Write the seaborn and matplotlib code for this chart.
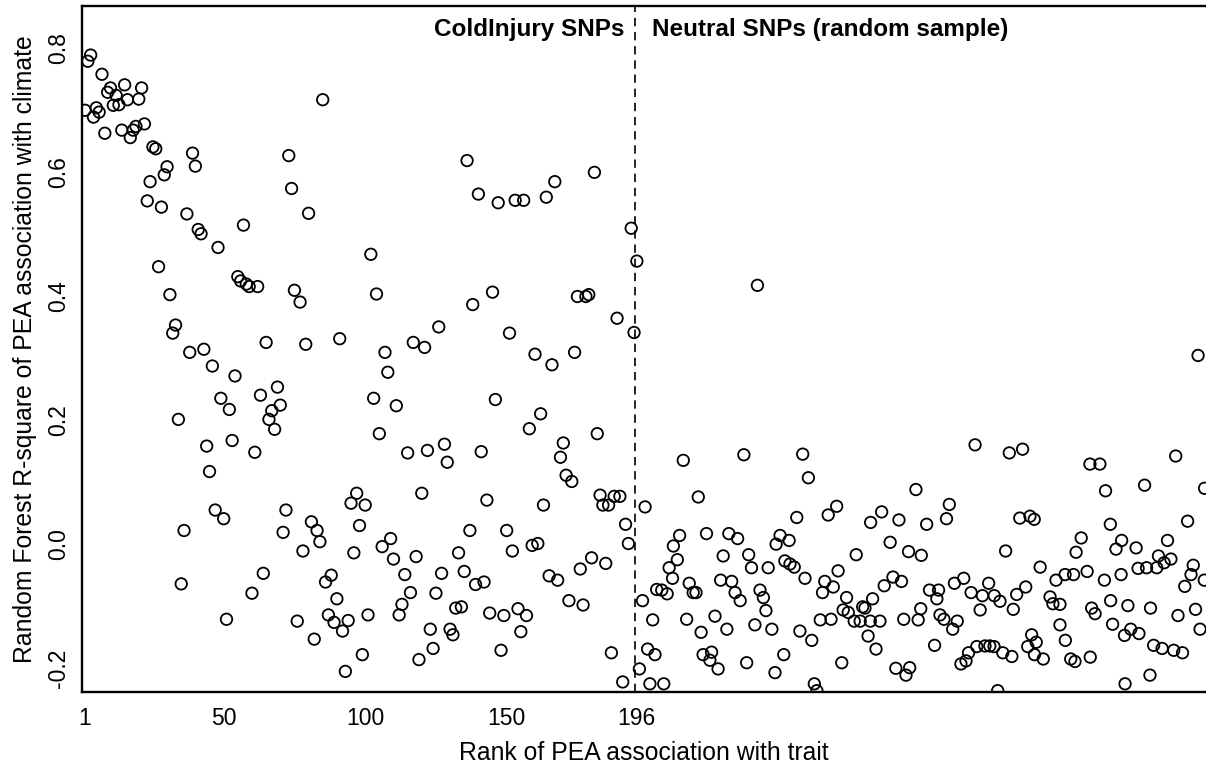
import numpy as np
import pandas as pd
import matplotlib
matplotlib.use("Agg")
import matplotlib.pyplot as plt
import seaborn as sns

# Random Forest R-square of PEA association with climate, ordered by rank of PEA association with trait
cold_r2 = [
    0.699, 0.778, 0.788, 0.688, 0.703, 0.696, 0.757, 0.662, 0.728, 0.735,
    0.707, 0.723, 0.708, 0.667, 0.740, 0.716, 0.655, 0.667, 0.673, 0.717,
    0.735, 0.677, 0.553, 0.584, 0.640, 0.637, 0.447, 0.543, 0.595, 0.608,
    0.402, 0.340, 0.353, 0.201, -0.064, 0.022, 0.532, 0.309, 0.630, 0.609,
    0.507, 0.500, 0.314, 0.158, 0.117, 0.287, 0.055, 0.478, 0.235, 0.041,
    -0.121, 0.217, 0.167, 0.271, 0.431, 0.424, 0.514, 0.419, 0.415, -0.079,
    0.148, 0.415, 0.240, -0.047, 0.325, 0.201, 0.215, 0.185, 0.253, 0.224,
    0.019, 0.055, 0.626, 0.573, 0.409, -0.124, 0.390, -0.011, 0.322, 0.533,
    0.036, -0.153, 0.022, 0.004, 0.716, -0.061, -0.114, -0.050, -0.126, -0.088,
    0.331, -0.140, -0.205, -0.123, 0.066, -0.014, 0.082, 0.030, -0.178, 0.063,
    -0.114, 0.467, 0.235, 0.403, 0.178, -0.004, 0.309, 0.277, 0.009, -0.024,
    0.223, -0.114, -0.097, -0.049, 0.147, -0.078, 0.325, -0.020, -0.186, 0.082,
    0.317, 0.151, -0.137, -0.168, -0.079, 0.350, -0.047, 0.161, 0.132, -0.137,
    -0.146, -0.103, -0.014, -0.101, -0.044, 0.618, 0.022, 0.386, -0.065, 0.564,
    0.149, -0.061, 0.071, -0.111, 0.406, 0.233, 0.550, -0.171, -0.115, 0.022,
    0.340, -0.011, 0.554, -0.104, -0.141, 0.554, -0.115, 0.186, -0.002, 0.306,
    0.001, 0.210, 0.063, 0.559, -0.051, 0.289, 0.584, -0.058, 0.140, 0.163,
    0.111, -0.091, 0.101, 0.309, 0.399, -0.040, -0.098, 0.399, 0.402, -0.022,
    0.599, 0.178, 0.079, 0.063, -0.031, 0.063, -0.175, 0.077, 0.364, 0.077,
    -0.222, 0.032, 0.001, 0.509, 0.341, 0.456,
]

# x position (rank axis) of the neutral SNPs
neutral_rank = [
    196.9, 198.0, 198.9, 199.8, 200.6, 201.6, 202.4, 203.0,
    204.8, 205.5, 206.7, 207.4, 208.6, 208.9, 210.3, 211.1, 212.4, 213.6,
    214.5, 215.9, 216.9, 217.7, 218.7, 219.4, 220.6, 221.8, 222.4, 223.6,
    224.7, 225.6, 226.5, 227.8, 228.5, 229.5, 230.7, 231.6, 232.5, 233.8,
    234.8, 235.5, 236.5, 237.7, 238.6, 239.5, 240.7, 241.6, 242.4, 243.7,
    244.8, 245.2, 246.6, 247.9, 248.3, 249.8, 250.1, 251.6, 252.5, 253.6,
    254.6, 255.4, 256.6, 257.8, 258.7, 259.6, 260.8, 261.6, 262.4, 263.6,
    264.6, 265.4, 266.6, 267.1, 268.4, 268.9, 270.1, 270.7,
    272.8, 273.5, 274.9, 275.8, 276.6, 277.7, 278.5, 278.6, 279.3, 280.5,
    281.9, 282.5, 283.4, 285.5, 286.5, 287.5, 288.6, 289.5, 290.3, 291.1,
    292.0, 292.4, 294.6, 295.4, 296.3, 296.5, 298.4, 299.4, 301.2, 302.0,
    302.6, 303.1, 304.5, 305.4, 306.4, 307.6, 308.2, 309.2, 310.5, 311.5,
    312.3, 313.2, 314.1, 315.5, 316.1, 317.3, 318.1, 319.0, 320.3, 320.7,
    322.2, 322.3, 323.5, 324.3, 325.3, 326.3, 327.6, 328.5, 329.0, 330.2,
    331.3, 332.3, 333.4, 334.1, 334.9, 335.5, 336.4, 336.5, 337.1, 338.5,
    339.6, 342.0, 343.0, 344.1, 345.5, 345.5, 347.3, 347.4, 349.3, 350.3,
    350.8, 351.2, 353.0, 355.1, 356.1, 356.2, 356.7, 357.9, 359.6, 361.2,
    361.6, 363.3, 363.4, 364.1, 365.3, 367.1, 367.3, 368.3, 368.5, 369.5,
    370.5, 372.4, 373.1, 373.4, 375.4, 376.1, 377.3, 377.5, 378.6, 379.7,
    380.3, 381.6, 382.3, 383.5, 384.7, 385.7, 386.4, 387.2, 388.8, 389.6,
    390.6, 391.8, 392.6, 393.4, 394.3, 395.0, 396.5, 396.6,
]

neutral_r2 = [
    -0.201, -0.091, 0.060, -0.169, -0.225, -0.122, -0.178, -0.073,
    -0.074, -0.225, -0.080, -0.038, -0.055, -0.003, -0.025, 0.014, 0.135, -0.121,
    -0.063, -0.078, -0.078, 0.076, -0.142, -0.178, 0.017, -0.187, -0.174, -0.116,
    -0.201, -0.058, -0.019, -0.137, 0.017, -0.060, -0.078, 0.009, -0.091, 0.144,
    -0.191, -0.017, -0.038, -0.130, 0.417, -0.074, -0.086, -0.107, -0.038, -0.137,
    -0.207, 0.000, 0.014, -0.178, -0.027, 0.006, -0.032, -0.037, 0.043, -0.140,
    0.145, -0.055, 0.107, -0.155, -0.225, -0.236, -0.122, -0.078, -0.060, 0.047,
    -0.121, -0.069, 0.061, -0.043, -0.191, -0.106, -0.086, -0.110,
    -0.124, -0.017, -0.124, -0.101, -0.103, -0.148, -0.124, 0.035, -0.088, -0.169,
    -0.124, 0.052, -0.067, 0.003, -0.053, -0.200, 0.039, -0.060, -0.121, -0.211,
    -0.012, -0.199, 0.088, -0.122, -0.104, -0.018, 0.032, -0.074, -0.163, -0.088,
    -0.074, -0.114, -0.121, 0.041, 0.064, -0.137, -0.063, -0.124, -0.193, -0.055,
    -0.188, -0.175, -0.078, 0.160, -0.165, -0.106, -0.083, -0.164, -0.063, -0.164,
    -0.165, -0.083, -0.236, -0.092, -0.175, -0.011, 0.147, -0.181, -0.105, -0.081,
    0.042, 0.153, -0.069, -0.165, 0.045, -0.146, 0.040, -0.178, -0.158, -0.037,
    -0.185, -0.085, -0.096, -0.058, -0.130, -0.097, -0.049, -0.155, -0.185, -0.049,
    -0.189, -0.013, 0.010, -0.044, 0.129, -0.182, -0.103, -0.112, 0.129, -0.058,
    0.086, 0.032, -0.091, -0.129, -0.008, -0.049, 0.006, -0.147, -0.225, -0.099,
    -0.137, -0.006, -0.039, -0.144, 0.095, -0.038, -0.211, -0.103, -0.163, -0.038,
    -0.019, -0.168, -0.030, 0.006, -0.024, -0.171, 0.142, -0.115, -0.175, -0.068,
    0.037, -0.049, -0.034, -0.105, 0.304, -0.137, -0.058, 0.090,
]

group_labels = ["ColdInjury SNPs", "Neutral SNPs (random sample)"]
x_ticks = [1, 50, 100, 150, 196]
x_tick_labels = ["1", "50", "100", "150", "196"]
y_ticks = [-0.2, 0.0, 0.2, 0.4, 0.6, 0.8]
y_tick_labels = ["-0.2", "0.0", "0.2", "0.4", "0.6", "0.8"]

sns.set_style("white")
plt.rcParams["font.family"] = ["Liberation Sans", "DejaVu Sans"]
plt.rcParams["axes.unicode_minus"] = False
plt.rcParams["text.color"] = "black"
plt.rcParams["axes.labelcolor"] = "black"
plt.rcParams["xtick.color"] = "black"
plt.rcParams["ytick.color"] = "black"

n_cold = len(cold_r2)
cold_rank = list(range(1, n_cold + 1))
df = pd.DataFrame({
    "rank": cold_rank + neutral_rank,
    "r2": cold_r2 + neutral_r2,
    "group": [group_labels[0]] * n_cold + [group_labels[1]] * len(neutral_r2),
})

W, H = 1206, 767
fig = plt.figure(figsize=(W / 100, H / 100), dpi=100)
ax = fig.add_axes([82 / W, 1 - 691.7 / H, 1124 / W, 685.7 / H])

sns.scatterplot(data=df, x="rank", y="r2", ax=ax, marker="o", s=68,
                facecolor="none", edgecolor="black", linewidth=1.3,
                legend=False)
for coll in ax.collections:
    coll.set_facecolor("none")
    coll.set_edgecolor("black")

ax.axvline(n_cold - 0.5, color="black", linestyle=(0, (5, 3.5)), linewidth=1.2)

ax.set_xlim(-0.06, 397.1)
ax.set_ylim(-0.2377, 0.867)

ax.text(n_cold - 4.5, 0.8297, group_labels[0], ha="right", va="center",
        fontsize=17.5, fontweight="bold", color="black")
ax.text(n_cold + 5.2, 0.8297, group_labels[1], ha="left", va="center",
        fontsize=17.5, fontweight="bold", color="black")

ax.set_xticks(x_ticks)
ax.set_xticklabels(x_tick_labels)
ax.set_yticks(y_ticks)
ax.set_yticklabels(y_tick_labels, rotation=90, va="center")
ax.tick_params(axis="x", direction="in", length=2, width=1, pad=11, labelsize=16.5,
               colors="black")
ax.tick_params(axis="y", direction="out", length=8.6, width=1.2, pad=0, labelsize=16.5,
               colors="black")

ax.set_xlabel("Rank of PEA association with trait", fontsize=17.8, labelpad=8, color="black")
ax.set_ylabel("Random Forest R-square of PEA association with climate", fontsize=17.8,
              labelpad=7, color="black")

for side in ["left", "bottom", "top"]:
    ax.spines[side].set_visible(True)
    ax.spines[side].set_color("black")
    ax.spines[side].set_linewidth(1.7)
ax.spines["right"].set_visible(False)

fig.savefig("out.png", dpi=100)
